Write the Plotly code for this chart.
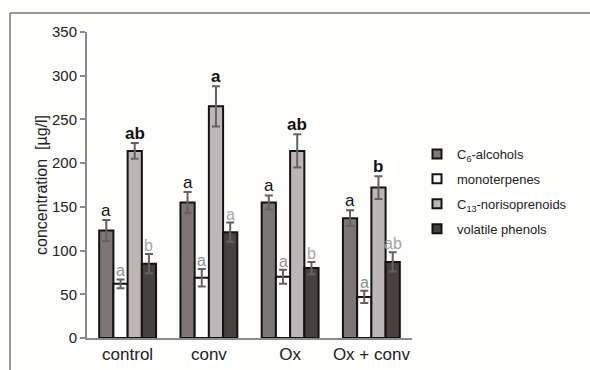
import plotly.graph_objects as go

categories = ["control", "conv", "Ox", "Ox + conv"]
series_names = ["C<sub>6</sub>-alcohols", "monoterpenes", "C<sub>13</sub>-norisoprenoids", "volatile phenols"]
c6_alcohols = [123, 155, 155, 137]
c6_err = [12, 12, 8, 9]
monoterpenes = [62, 69, 70, 47]
mono_err = [5, 10, 8, 7]
c13_noriso = [214, 265, 214, 172]
c13_err = [9, 23, 19, 13]
vol_phenols = [85, 121, 80, 87]
phen_err = [11, 11, 7, 11]
letters_c6 = ["a", "a", "a", "a"]
letters_mono = ["a", "a", "a", "a"]
letters_c13 = ["ab", "a", "ab", "b"]
letters_phen = ["b", "a", "b", "ab"]
y_ticks = [0, 50, 100, 150, 200, 250, 300, 350]

values = [c6_alcohols, monoterpenes, c13_noriso, vol_phenols]
errors = [c6_err, mono_err, c13_err, phen_err]
letters = [letters_c6, letters_mono, letters_c13, letters_phen]
fills = ["#7d7675", "#ffffff", "#bcb7b6", "#48423f"]
letter_colors = ["#111111", "#8f8f8f", "#111111", "#a5a5a5"]
letter_bold = [False, False, True, False]
letter_sizes = [17, 16, 17, 16]

FONT = "Liberation Sans, Arial, sans-serif"
W, H = 590, 370
L, R, T, B = 87, 178, 32, 32
bargap = 0.30

fig = go.Figure()
for j in range(4):
    fig.add_trace(go.Bar(
        x=categories, y=values[j], name=series_names[j], showlegend=False,
        marker=dict(color=fills[j], line=dict(color="#141212", width=2)),
        error_y=dict(type="data", array=errors[j], visible=True,
                     color="#666060", thickness=2, width=4),
    ))
# legend entries with small square symbols
for j in range(4):
    fig.add_trace(go.Scatter(
        x=[None], y=[None], mode="markers", name=series_names[j],
        legendgroup="g%d" % j,
        marker=dict(symbol="square", size=9, color=fills[j],
                    line=dict(color="#141212", width=2)),
    ))

slot = (1 - bargap) / 4
for j in range(4):
    for i, cat in enumerate(categories):
        txt = letters[j][i]
        if letter_bold[j]:
            txt = "<b>%s</b>" % txt
        fig.add_annotation(
            x=i + (j - 1.5) * slot, y=values[j][i] + errors[j][i],
            xref="x", yref="y", text=txt, showarrow=False,
            yanchor="bottom", yshift=-2,
            font=dict(family=FONT, size=letter_sizes[j], color=letter_colors[j]),
        )

# outer frame (top and left lines)
pw, ph = W - L - R, H - T - B
def px_x(p):
    return (p - L) / pw
def px_y(p):
    return (H - B - p) / ph
fig.add_shape(type="line", xref="paper", yref="paper",
              x0=px_x(10), x1=px_x(592), y0=px_y(13), y1=px_y(13),
              line=dict(color="#777777", width=1.5))
fig.add_shape(type="line", xref="paper", yref="paper",
              x0=px_x(10), x1=px_x(10), y0=px_y(13), y1=px_y(372),
              line=dict(color="#777777", width=1.5))

fig.update_layout(
    width=W, height=H,
    margin=dict(l=L, r=R, t=T, b=B),
    paper_bgcolor="#fefefd", plot_bgcolor="#fefefd",
    barmode="group", bargap=bargap, bargroupgap=0,
    font=dict(family=FONT, color="#222222"),
    showlegend=True,
    legend=dict(x=px_x(417), y=px_y(139), xanchor="left", yanchor="top",
                font=dict(family=FONT, size=13, color="#222222"),
                tracegroupgap=5, bgcolor="rgba(0,0,0,0)"),
    xaxis=dict(showline=True, linecolor="#8a8a8a", linewidth=2, ticks="",
               tickfont=dict(family=FONT, size=17, color="#222222"),
               showgrid=False, zeroline=False, automargin=False),
    yaxis=dict(range=[0, 350], tickvals=y_ticks, showline=True,
               linecolor="#8a8a8a", linewidth=2, ticks="outside", ticklen=5,
               tickcolor="#8a8a8a", tickwidth=1.5,
               tickfont=dict(family=FONT, size=15, color="#222222"),
               showgrid=False, zeroline=False, automargin=False,
               title=dict(text="concentration  [µg/l]", standoff=0,
                          font=dict(family=FONT, size=16, color="#222222"))),
)

fig.write_html("out.html")
